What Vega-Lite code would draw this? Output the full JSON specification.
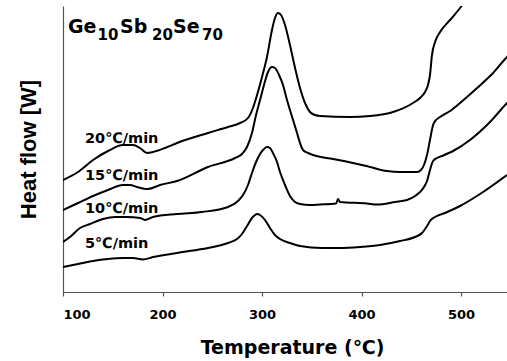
{
  "$schema": "https://vega.github.io/schema/vega-lite/v6.json",
  "width": 444,
  "height": 286,
  "autosize": {"type": "none"},
  "padding": {"left": 63, "top": 6, "right": 0, "bottom": 69},
  "background": "white",
  "config": {"view": {"stroke": null}},
  "datasets": {
    "curves": [
      {"rate": "20", "T": 100, "hf": 112}, {"rate": "20", "T": 115.1, "hf": 120}, {"rate": "20", "T": 130.2, "hf": 132}, {"rate": "20", "T": 145.2, "hf": 141}, {"rate": "20", "T": 160.3, "hf": 147}, {"rate": "20", "T": 170.4, "hf": 147}, {"rate": "20", "T": 177.4, "hf": 144}, {"rate": "20", "T": 184.4, "hf": 139}, {"rate": "20", "T": 190.5, "hf": 140}, {"rate": "20", "T": 202.5, "hf": 144}, {"rate": "20", "T": 214.6, "hf": 149}, {"rate": "20", "T": 245.7, "hf": 159}, {"rate": "20", "T": 265.8, "hf": 165}, {"rate": "20", "T": 277.9, "hf": 169}, {"rate": "20", "T": 285.9, "hf": 174}, {"rate": "20", "T": 290.9, "hf": 184}, {"rate": "20", "T": 295.9, "hf": 200}, {"rate": "20", "T": 300, "hf": 215}, {"rate": "20", "T": 305, "hf": 235}, {"rate": "20", "T": 310, "hf": 262}, {"rate": "20", "T": 313, "hf": 274}, {"rate": "20", "T": 316, "hf": 279}, {"rate": "20", "T": 319.1, "hf": 277}, {"rate": "20", "T": 323.1, "hf": 267}, {"rate": "20", "T": 328.1, "hf": 247}, {"rate": "20", "T": 333.2, "hf": 224}, {"rate": "20", "T": 338.2, "hf": 204}, {"rate": "20", "T": 343.2, "hf": 189}, {"rate": "20", "T": 348.2, "hf": 180}, {"rate": "20", "T": 353.3, "hf": 177}, {"rate": "20", "T": 358.3, "hf": 176}, {"rate": "20", "T": 388.4, "hf": 175}, {"rate": "20", "T": 408.5, "hf": 176}, {"rate": "20", "T": 431.7, "hf": 180}, {"rate": "20", "T": 451.8, "hf": 189}, {"rate": "20", "T": 458.8, "hf": 194}, {"rate": "20", "T": 463.8, "hf": 200}, {"rate": "20", "T": 466.8, "hf": 207}, {"rate": "20", "T": 468.8, "hf": 217}, {"rate": "20", "T": 470.8, "hf": 237}, {"rate": "20", "T": 473.9, "hf": 250}, {"rate": "20", "T": 478.9, "hf": 260}, {"rate": "20", "T": 489, "hf": 272}, {"rate": "20", "T": 499, "hf": 284}, {"rate": "20", "T": 504, "hf": 291},
      {"rate": "15", "T": 100, "hf": 82}, {"rate": "15", "T": 115.1, "hf": 89}, {"rate": "15", "T": 130.2, "hf": 96}, {"rate": "15", "T": 145.2, "hf": 102}, {"rate": "15", "T": 160.3, "hf": 107}, {"rate": "15", "T": 167.3, "hf": 107}, {"rate": "15", "T": 174.4, "hf": 105}, {"rate": "15", "T": 185.4, "hf": 103}, {"rate": "15", "T": 197.5, "hf": 107}, {"rate": "15", "T": 214.6, "hf": 111}, {"rate": "15", "T": 245.7, "hf": 125}, {"rate": "15", "T": 272.9, "hf": 134}, {"rate": "15", "T": 279.9, "hf": 138}, {"rate": "15", "T": 284.9, "hf": 145}, {"rate": "15", "T": 289.9, "hf": 159}, {"rate": "15", "T": 294, "hf": 177}, {"rate": "15", "T": 298, "hf": 192}, {"rate": "15", "T": 302, "hf": 207}, {"rate": "15", "T": 306, "hf": 220}, {"rate": "15", "T": 310, "hf": 225}, {"rate": "15", "T": 313, "hf": 224}, {"rate": "15", "T": 317.1, "hf": 217}, {"rate": "15", "T": 321.1, "hf": 207}, {"rate": "15", "T": 325.1, "hf": 192}, {"rate": "15", "T": 331.2, "hf": 172}, {"rate": "15", "T": 335.2, "hf": 159}, {"rate": "15", "T": 338.2, "hf": 149}, {"rate": "15", "T": 341.2, "hf": 142}, {"rate": "15", "T": 346.2, "hf": 139}, {"rate": "15", "T": 351.3, "hf": 137}, {"rate": "15", "T": 371.4, "hf": 133}, {"rate": "15", "T": 391.5, "hf": 129}, {"rate": "15", "T": 408.5, "hf": 125}, {"rate": "15", "T": 425.6, "hf": 121}, {"rate": "15", "T": 438.7, "hf": 120}, {"rate": "15", "T": 455.8, "hf": 120}, {"rate": "15", "T": 459.8, "hf": 122}, {"rate": "15", "T": 462.8, "hf": 127}, {"rate": "15", "T": 465.8, "hf": 137}, {"rate": "15", "T": 468.8, "hf": 152}, {"rate": "15", "T": 471.9, "hf": 167}, {"rate": "15", "T": 474.9, "hf": 172}, {"rate": "15", "T": 478.9, "hf": 175}, {"rate": "15", "T": 489, "hf": 181}, {"rate": "15", "T": 499, "hf": 189}, {"rate": "15", "T": 516.1, "hf": 204}, {"rate": "15", "T": 532.2, "hf": 219}, {"rate": "15", "T": 546.2, "hf": 235}, {"rate": "15", "T": 554.3, "hf": 242},
      {"rate": "10", "T": 100, "hf": 50}, {"rate": "10", "T": 107, "hf": 55}, {"rate": "10", "T": 117.1, "hf": 64}, {"rate": "10", "T": 127.1, "hf": 68}, {"rate": "10", "T": 140.2, "hf": 73}, {"rate": "10", "T": 152.3, "hf": 75}, {"rate": "10", "T": 164.3, "hf": 75}, {"rate": "10", "T": 177.4, "hf": 74}, {"rate": "10", "T": 182.4, "hf": 72}, {"rate": "10", "T": 190.5, "hf": 75}, {"rate": "10", "T": 214.6, "hf": 78}, {"rate": "10", "T": 239.7, "hf": 80}, {"rate": "10", "T": 265.8, "hf": 85}, {"rate": "10", "T": 275.9, "hf": 91}, {"rate": "10", "T": 280.9, "hf": 97}, {"rate": "10", "T": 285.9, "hf": 107}, {"rate": "10", "T": 289.9, "hf": 119}, {"rate": "10", "T": 294, "hf": 130}, {"rate": "10", "T": 298, "hf": 138}, {"rate": "10", "T": 302, "hf": 143}, {"rate": "10", "T": 305, "hf": 145}, {"rate": "10", "T": 308, "hf": 144}, {"rate": "10", "T": 311, "hf": 139}, {"rate": "10", "T": 315.1, "hf": 130}, {"rate": "10", "T": 318.1, "hf": 120}, {"rate": "10", "T": 323.1, "hf": 107}, {"rate": "10", "T": 328.1, "hf": 96}, {"rate": "10", "T": 333.2, "hf": 90}, {"rate": "10", "T": 338.2, "hf": 88}, {"rate": "10", "T": 348.2, "hf": 87}, {"rate": "10", "T": 358.3, "hf": 87.5}, {"rate": "10", "T": 374.4, "hf": 88.5}, {"rate": "10", "T": 376.4, "hf": 93}, {"rate": "10", "T": 378.4, "hf": 90}, {"rate": "10", "T": 405.5, "hf": 88.5}, {"rate": "10", "T": 415.6, "hf": 87.5}, {"rate": "10", "T": 433.7, "hf": 90}, {"rate": "10", "T": 445.7, "hf": 92}, {"rate": "10", "T": 453.8, "hf": 96}, {"rate": "10", "T": 458.8, "hf": 100}, {"rate": "10", "T": 462.8, "hf": 105}, {"rate": "10", "T": 465.8, "hf": 111}, {"rate": "10", "T": 468.8, "hf": 122}, {"rate": "10", "T": 471.9, "hf": 131}, {"rate": "10", "T": 475.9, "hf": 134}, {"rate": "10", "T": 480.9, "hf": 136}, {"rate": "10", "T": 492, "hf": 141}, {"rate": "10", "T": 509, "hf": 152}, {"rate": "10", "T": 529.1, "hf": 170}, {"rate": "10", "T": 546.2, "hf": 189}, {"rate": "10", "T": 554.3, "hf": 197},
      {"rate": "5", "T": 100, "hf": 25}, {"rate": "5", "T": 115.1, "hf": 28}, {"rate": "5", "T": 130.2, "hf": 31}, {"rate": "5", "T": 145.2, "hf": 33}, {"rate": "5", "T": 160.3, "hf": 34}, {"rate": "5", "T": 170.4, "hf": 34}, {"rate": "5", "T": 180.4, "hf": 32.5}, {"rate": "5", "T": 190.5, "hf": 35}, {"rate": "5", "T": 214.6, "hf": 39}, {"rate": "5", "T": 239.7, "hf": 43}, {"rate": "5", "T": 265.8, "hf": 49}, {"rate": "5", "T": 274.9, "hf": 53}, {"rate": "5", "T": 279.9, "hf": 58}, {"rate": "5", "T": 284.9, "hf": 66}, {"rate": "5", "T": 289.9, "hf": 74}, {"rate": "5", "T": 293, "hf": 77}, {"rate": "5", "T": 295, "hf": 78}, {"rate": "5", "T": 298, "hf": 77}, {"rate": "5", "T": 303, "hf": 72}, {"rate": "5", "T": 308, "hf": 64}, {"rate": "5", "T": 313, "hf": 57}, {"rate": "5", "T": 318.1, "hf": 53}, {"rate": "5", "T": 328.1, "hf": 49}, {"rate": "5", "T": 338.2, "hf": 46}, {"rate": "5", "T": 360.3, "hf": 44}, {"rate": "5", "T": 378.4, "hf": 44}, {"rate": "5", "T": 398.5, "hf": 45}, {"rate": "5", "T": 418.6, "hf": 47}, {"rate": "5", "T": 438.7, "hf": 51}, {"rate": "5", "T": 453.8, "hf": 55}, {"rate": "5", "T": 460.8, "hf": 59}, {"rate": "5", "T": 465.8, "hf": 66}, {"rate": "5", "T": 468.8, "hf": 71}, {"rate": "5", "T": 473.9, "hf": 75}, {"rate": "5", "T": 483.9, "hf": 79}, {"rate": "5", "T": 499, "hf": 86}, {"rate": "5", "T": 519.1, "hf": 98}, {"rate": "5", "T": 546.2, "hf": 117}
    ],
    "labels": [
      {"text": "20℃/min", "T": 122.1, "hf": 149},
      {"text": "15℃/min", "T": 122.1, "hf": 112},
      {"text": "10℃/min", "T": 122.1, "hf": 79},
      {"text": "5℃/min", "T": 122.1, "hf": 44}
    ],
    "titleMain": [
      {"text": "Ge", "T": 105.0, "hf": 259},
      {"text": "Sb", "T": 157.3, "hf": 259},
      {"text": "Se", "T": 210.6, "hf": 259}
    ],
    "titleSub": [
      {"text": "10", "T": 134.7, "hf": 252},
      {"text": "20", "T": 189.4, "hf": 252},
      {"text": "70", "T": 239.7, "hf": 252}
    ]
  },
  "encoding": {
    "x": {
      "field": "T", "type": "quantitative",
      "scale": {"domain": [100, 546.2], "nice": false, "zero": false},
      "axis": {
        "values": [100, 200, 300, 400, 500],
        "grid": false,
        "domainColor": "#555", "domainWidth": 1.2,
        "tickColor": "#555", "tickSize": 4, "tickWidth": 1.2,
        "labelFont": "DejaVu Sans", "labelFontWeight": "bold", "labelFontSize": 13, "labelColor": "black",
        "labelPadding": 12,
        "title": "Temperature (℃)",
        "titleFont": "DejaVu Sans", "titleFontWeight": "bold", "titleFontSize": 19, "titleColor": "black",
        "titleX": 229, "titleY": 61, "titleAlign": "center", "titleBaseline": "alphabetic"
      }
    },
    "y": {
      "field": "hf", "type": "quantitative",
      "scale": {"domain": [0, 286], "nice": false, "zero": false},
      "axis": {
        "grid": false, "ticks": false, "labels": false,
        "domainColor": "#555", "domainWidth": 1.2,
        "title": "Heat flow [W]",
        "titleFont": "Liberation Sans", "titleFontWeight": "bold", "titleFontSize": 22, "titleColor": "black",
        "titleX": -28, "titleY": 143, "titleAlign": "center", "titleBaseline": "alphabetic", "titleAngle": -90
      }
    }
  },
  "layer": [
    {
      "data": {"name": "curves"},
      "mark": {"type": "line", "color": "black", "strokeWidth": 2, "clip": true, "interpolate": "monotone"},
      "encoding": {"detail": {"field": "rate", "type": "nominal"}}
    },
    {
      "mark": {"type": "rule", "color": "#555", "strokeWidth": 1.2},
      "encoding": {"y": {"datum": 286}, "x": null}
    },
    {
      "data": {"name": "labels"},
      "mark": {"type": "text", "font": "DejaVu Sans", "fontWeight": "bold", "fontSize": 14.5, "align": "left", "baseline": "alphabetic", "color": "black"},
      "encoding": {"text": {"field": "text"}}
    },
    {
      "data": {"name": "titleMain"},
      "mark": {"type": "text", "font": "DejaVu Sans", "fontWeight": "bold", "fontSize": 19, "align": "left", "baseline": "alphabetic", "color": "black"},
      "encoding": {"text": {"field": "text"}}
    },
    {
      "data": {"name": "titleSub"},
      "mark": {"type": "text", "font": "DejaVu Sans", "fontWeight": "bold", "fontSize": 15, "align": "left", "baseline": "alphabetic", "color": "black"},
      "encoding": {"text": {"field": "text"}}
    }
  ]
}
